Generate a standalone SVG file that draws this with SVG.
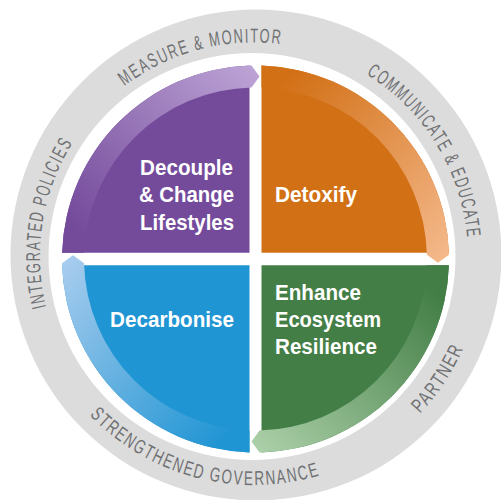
<svg xmlns="http://www.w3.org/2000/svg" width="501" height="500" viewBox="0 0 501 500">
<style>
.lbl{font-family:"Liberation Sans",Arial,sans-serif;font-weight:bold;font-size:22px;fill:#ffffff}
.ring{font-family:"Liberation Sans",Arial,sans-serif;font-size:20px;fill:#707173;letter-spacing:2.5px}
</style>
<defs>
<linearGradient id="gP" gradientUnits="userSpaceOnUse" x1="62" y1="253" x2="255" y2="70"><stop offset="0.1" stop-color="#744a9b"/><stop offset="1" stop-color="#bca3d5"/></linearGradient>
<linearGradient id="gO" gradientUnits="userSpaceOnUse" x1="262" y1="66" x2="448" y2="253"><stop offset="0.1" stop-color="#d27016"/><stop offset="1" stop-color="#f4b88a"/></linearGradient>
<linearGradient id="gG" gradientUnits="userSpaceOnUse" x1="448" y1="266" x2="262" y2="452"><stop offset="0.1" stop-color="#437e46"/><stop offset="1" stop-color="#abcfa8"/></linearGradient>
<linearGradient id="gB" gradientUnits="userSpaceOnUse" x1="250" y1="452" x2="62" y2="265"><stop offset="0.1" stop-color="#2095d3"/><stop offset="1" stop-color="#a7ccee"/></linearGradient>
<path id="tp1" d="M118.45,422.1 A214,214 0 0 1 178.35,56.3"/>
<path id="tp2" d="M47.4,200.75 A214,214 0 0 1 405.6,105.4"/>
<path id="tp3" d="M248,42.6 A214,214 0 0 1 442.2,358.3"/>
<path id="tp4" d="M33.8,317.6 A228.5,228.5 0 0 0 417,416.7"/>
<path id="tp5" d="M240.45,484.6 A228.5,228.5 0 0 0 458.3,154.2"/>
</defs>
<rect width="501" height="500" fill="#ffffff"/>
<g id="ring">
<path fill="#dcdcdc" fill-rule="evenodd" d="M10.5,255 A245.5,245.5 0 1 1 501.5,255 A245.5,245.5 0 1 1 10.5,255 Z M48.5,256.5 A203.5,203.5 0 1 0 455.5,256.5 A203.5,203.5 0 1 0 48.5,256.5 Z"/>
<text class="ring"><textPath href="#tp1" startOffset="50%" text-anchor="middle" textLength="172" lengthAdjust="spacingAndGlyphs">INTEGRATED POLICIES</textPath></text>
<text class="ring"><textPath href="#tp2" startOffset="50%" text-anchor="middle" textLength="167" lengthAdjust="spacingAndGlyphs">MEASURE &amp; MONITOR</textPath></text>
<text class="ring"><textPath href="#tp3" startOffset="50%" text-anchor="middle" textLength="200" lengthAdjust="spacingAndGlyphs">COMMUNICATE &amp; EDUCATE</textPath></text>
<text class="ring"><textPath href="#tp4" startOffset="50%" text-anchor="middle" textLength="251" lengthAdjust="spacingAndGlyphs">STRENGTHENED GOVERNANCE</textPath></text>
<text class="ring"><textPath href="#tp5" startOffset="50%" text-anchor="middle" textLength="80" lengthAdjust="spacingAndGlyphs">PARTNER</textPath></text>
</g>
<g id="decouple">
<path fill="#744a9b" d="M249.5,252.7 L62.1,252.7 A193.5,193.5 0 0 1 249.5,65.6 Z"/>
<text class="lbl" x="140" y="175" textLength="93" lengthAdjust="spacingAndGlyphs">Decouple</text>
<text class="lbl" x="139" y="202" textLength="95" lengthAdjust="spacingAndGlyphs">&amp; Change</text>
<text class="lbl" x="140" y="229.5" textLength="94" lengthAdjust="spacingAndGlyphs">Lifestyles</text>
</g>
<g id="detoxify">
<path fill="#d27016" d="M261.5,252.7 L261.5,65.6 A193.5,193.5 0 0 1 448.9,252.7 Z"/>
<text class="lbl" x="275" y="202" textLength="82" lengthAdjust="spacingAndGlyphs">Detoxify</text>
</g>
<g id="enhance">
<path fill="#437e46" d="M261.5,265.3 L448.9,265.3 A193.5,193.5 0 0 1 261.5,452.4 Z"/>
</g>
<g id="decarbonise">
<path fill="#2095d3" d="M249.5,265.3 L249.5,452.4 A193.5,193.5 0 0 1 62.1,265.3 Z"/>
</g>
<g id="connectors">
<path fill="url(#gP)" d="M62.1,252.7 A193.5,193.5 0 0 1 251.5,65.54 L259.5,76.5 L251.5,87.55 A171.5,171.5 0 0 0 84.1,252.7 Z"/>
<path fill="url(#gO)" d="M261.5,65.6 A193.5,193.5 0 0 1 448.95,254.7 L438,262.7 L426.95,254.7 A171.5,171.5 0 0 0 261.5,87.6 Z"/>
<path fill="url(#gG)" d="M448.9,265.3 A193.5,193.5 0 0 1 259.5,452.46 L251.5,441.5 L259.5,430.45 A171.5,171.5 0 0 0 426.9,265.3 Z"/>
<path fill="url(#gB)" d="M249.5,452.4 A193.5,193.5 0 0 1 62.05,263.3 L73,255.3 L84.05,263.3 A171.5,171.5 0 0 0 249.5,430.4 Z"/>
</g>
<g id="labels2">
<text class="lbl" x="275" y="299.5" textLength="86" lengthAdjust="spacingAndGlyphs">Enhance</text>
<text class="lbl" x="275" y="327" textLength="106" lengthAdjust="spacingAndGlyphs">Ecosystem</text>
<text class="lbl" x="275" y="354" textLength="102" lengthAdjust="spacingAndGlyphs">Resilience</text>
<text class="lbl" x="110" y="327" textLength="124" lengthAdjust="spacingAndGlyphs">Decarbonise</text>
</g>
</svg>
